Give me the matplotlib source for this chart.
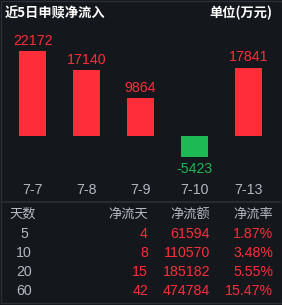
import matplotlib.pyplot as plt
from matplotlib.patches import Rectangle
from matplotlib.lines import Line2D

plt.rcParams['font.family'] = ['Noto Sans CJK SC', 'DejaVu Sans']
NUM_FONT = ['Liberation Sans', 'Noto Sans CJK SC']

# 数据
dates = ["7-7", "7-8", "7-9", "7-10", "7-13"]
flows = [22172, 17140, 9864, -5423, 17841]

table_header = ["天数", "净流天", "净流额", "净流率"]
days = ["5", "10", "20", "60"]
net_days = ["4", "8", "15", "42"]
net_amount = ["61594", "110570", "185182", "474784"]
net_rate = ["1.87%", "3.48%", "5.55%", "15.47%"]

BG = "#14171c"
RED = "#ff2d3a"
GREEN = "#1cb954"
GRAY = "#b4b8c0"
LINE = "#2c2f35"

W, H = 282, 305
fig = plt.figure(figsize=(W / 100, H / 100), dpi=100, facecolor=BG)


def fx(px):
    return px / W


def fy(py):
    return 1 - py / H


# 边框
fig.add_artist(Rectangle((fx(0.5), fy(302.5)), fx(281), (302 - 0.5) / H,
                         transform=fig.transFigure, fill=False,
                         edgecolor=LINE, linewidth=1))

# 标题
fig.text(fx(5), fy(13), "近5日申赎净流入", color="white", fontsize=9.5,
         fontweight="bold", ha="left", va="center")
fig.text(fx(272), fy(13), "单位(万元)", color="white", fontsize=9.5,
         fontweight="bold", ha="right", va="center")

# 柱状图区域
top_px, bot_px, base_px = 30, 175, 136
scale = 85 / max(flows)  # px per unit
ax = fig.add_axes([fx(5.5), fy(bot_px), fx(270), (bot_px - top_px) / H])
ax.set_facecolor("none")
ax.set_xlim(-0.5, len(dates) - 0.5)
ax.set_ylim(-(bot_px - base_px) / scale, (base_px - top_px) / scale)
ax.axis("off")

colors = [RED if v >= 0 else GREEN for v in flows]
ax.bar(range(len(dates)), flows, width=0.5, color=colors)
for i, v in enumerate(flows):
    if v >= 0:
        ax.annotate(str(v), (i, v), xytext=(0, 2.5), textcoords="offset points",
                    ha="center", va="bottom", color=RED, fontsize=10.2,
                    family=NUM_FONT)
    else:
        ax.annotate(str(v), (i, v), xytext=(0, -4), textcoords="offset points",
                    ha="center", va="top", color=GREEN, fontsize=10.2,
                    family=NUM_FONT)

for i, d in enumerate(dates):
    fig.text(fx(32.5 + 54 * i), fy(190), d, color=GRAY, fontsize=10.2,
             ha="center", va="center", family=NUM_FONT)

# 分隔线
fig.add_artist(Line2D([fx(2), fx(280)], [fy(202), fy(202)],
                      transform=fig.transFigure, color=LINE, linewidth=1.2))

# 表格
fig.text(fx(9), fy(214.5), table_header[0], color=GRAY, fontsize=9.5,
         ha="left", va="center")
for x, h in zip([148, 210, 273], table_header[1:]):
    fig.text(fx(x), fy(214.5), h, color=GRAY, fontsize=9.5,
             ha="right", va="center")

for r in range(len(days)):
    y = fy(234 + 19 * r)
    fig.text(fx(24), y, days[r], color=GRAY, fontsize=10.2, ha="center",
             va="center", family=NUM_FONT)
    fig.text(fx(148), y, net_days[r], color=RED, fontsize=10.2, ha="right",
             va="center", family=NUM_FONT)
    fig.text(fx(210), y, net_amount[r], color=RED, fontsize=10.2, ha="right",
             va="center", family=NUM_FONT)
    fig.text(fx(273), y, net_rate[r], color=RED, fontsize=10.2, ha="right",
             va="center", family=NUM_FONT)

plt.savefig("out.png", dpi=100, facecolor=BG)
